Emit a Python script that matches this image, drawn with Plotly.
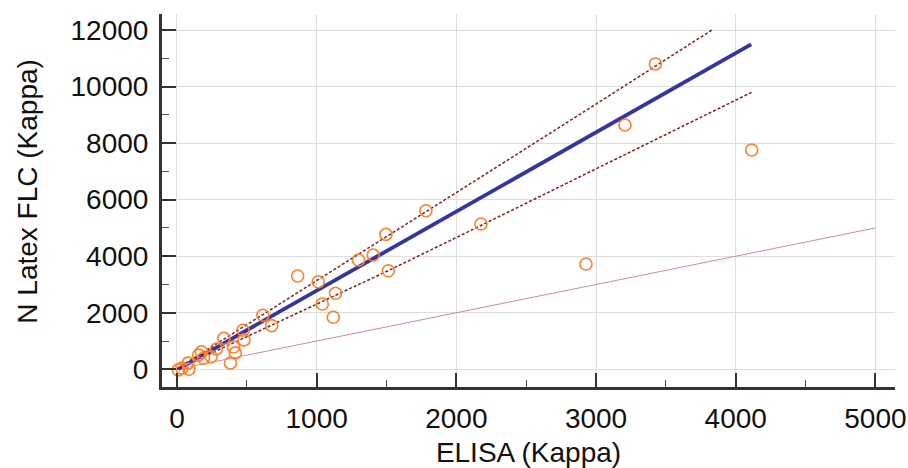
import plotly.graph_objects as go

# Data
elisa = [10, 35, 80, 85, 155, 175, 190, 245, 282, 336, 405, 418, 383, 473, 480, 615, 678,
         864, 1011, 1135, 1040, 1119, 1300, 1405, 1496, 1513, 1782, 2176, 2928, 3207, 3425, 4114]
nlatex = [-20, 40, 220, 0, 500, 620, 390, 446, 720, 1096, 790, 580, 225, 1380, 1040, 1910, 1545,
          3300, 3098, 2690, 2310, 1840, 3866, 4042, 4774, 3487, 5609, 5138, 3724, 8640, 10800, 7756]

reg_x = [10, 4110]
reg_y = [8, 11490]

upper_x = [0, 1000, 2000, 3000, 3830]
upper_y = [20, 3120, 6250, 9380, 12000]

lower_x = [0, 1000, 1512, 2000, 2670, 3000, 4114]
lower_y = [0, 2290, 3487, 4660, 6281, 7080, 9797]

ident_x = [0, 5000]
ident_y = [0, 5000]

x_ticks = [0, 1000, 2000, 3000, 4000, 5000]
y_ticks = [0, 2000, 4000, 6000, 8000, 10000, 12000]

x_title = "ELISA (Kappa)"
y_title = "N Latex FLC (Kappa)"

fig = go.Figure()
fig.add_trace(go.Scatter(x=ident_x, y=ident_y, mode="lines",
                         line=dict(color="#c99196", width=1), hoverinfo="skip"))
fig.add_trace(go.Scatter(x=upper_x, y=upper_y, mode="lines",
                         line=dict(color="#8b1a1a", width=1.5, dash="3px,2px")))
fig.add_trace(go.Scatter(x=lower_x, y=lower_y, mode="lines",
                         line=dict(color="#8b1a1a", width=1.5, dash="3px,2px")))
fig.add_trace(go.Scatter(x=reg_x, y=reg_y, mode="lines",
                         line=dict(color="#3535a0", width=3.8)))
fig.add_trace(go.Scatter(x=elisa, y=nlatex, mode="markers",
                         marker=dict(symbol="circle-open", size=12, color="#ff7f2a",
                                     line=dict(width=1.6, color="#ff7f2a"))))

font = dict(family="Liberation Sans, Arial, sans-serif", size=28, color="#111111")

fig.update_layout(
    width=908, height=468,
    margin=dict(l=162, r=13, t=14, b=81),
    paper_bgcolor="white", plot_bgcolor="white",
    showlegend=False,
    font=font,
    annotations=[dict(text=y_title, xref="paper", yref="paper", x=-0.184, y=0.524,
                      xanchor="center", yanchor="middle", textangle=-90,
                      showarrow=False, font=font)],
)
fig.update_xaxes(
    range=[-107, 5140], tickvals=x_ticks, ticktext=[str(v) for v in x_ticks],
    showline=True, linecolor="#333333", linewidth=3,
    ticks="inside", ticklen=14, tickwidth=2, tickcolor="#333333",
    minor=dict(ticks="inside", ticklen=7, tickwidth=1, tickcolor="#555555", dtick=500, tick0=0, showgrid=False),
    showgrid=True, gridcolor="#dedede", gridwidth=1,
    zeroline=False, ticklabelstandoff=4, automargin=False,
    title=dict(text=x_title, font=font, standoff=18),
)
fig.update_yaxes(
    range=[-626, 12566], tickvals=y_ticks, ticktext=[str(v) for v in y_ticks],
    showline=True, linecolor="#333333", linewidth=3,
    ticks="inside", ticklen=14, tickwidth=2, tickcolor="#333333",
    minor=dict(ticks="inside", ticklen=7, tickwidth=1, tickcolor="#555555", dtick=1000, tick0=0, showgrid=False),
    showgrid=True, gridcolor="#dedede", gridwidth=1,
    zeroline=False, ticklabelstandoff=5, automargin=False,
)

fig.write_html(
    "out.html",
    config={"displayModeBar": False},
    post_script="document.body.style.margin='0';document.body.style.overflow='hidden';",
)
